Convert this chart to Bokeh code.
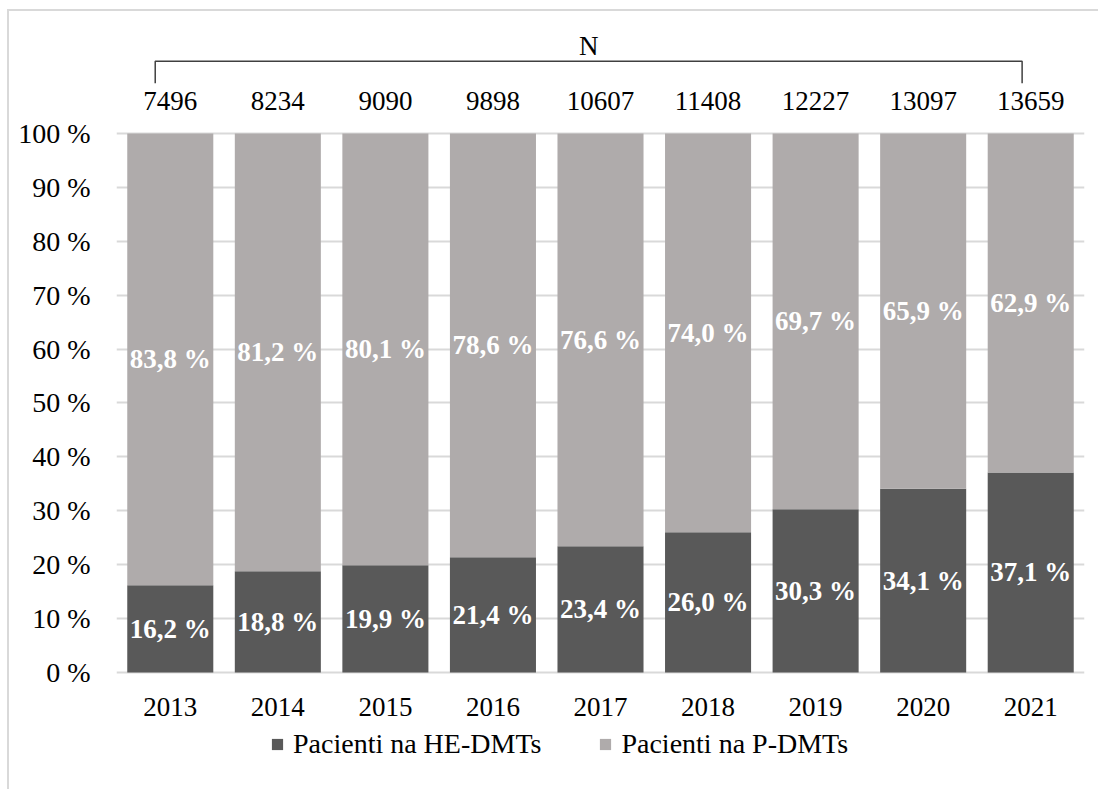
from bokeh.plotting import figure
from bokeh.models import (ColumnDataSource, FactorRange, FixedTicker, Range1d,
                          Legend, LegendItem)
from bokeh.core.properties import value
from bokeh.embed import file_html
from bokeh.resources import INLINE

# Data
years = ["2013", "2014", "2015", "2016", "2017", "2018", "2019", "2020", "2021"]
he_dmt = [16.2, 18.8, 19.9, 21.4, 23.4, 26.0, 30.3, 34.1, 37.1]
p_dmt = [83.8, 81.2, 80.1, 78.6, 76.6, 74.0, 69.7, 65.9, 62.9]
n_patients = [7496, 8234, 9090, 9898, 10607, 11408, 12227, 13097, 13659]
series_names = ["Pacienti na HE-DMTs", "Pacienti na P-DMTs"]
y_ticks = [0, 10, 20, 30, 40, 50, 60, 70, 80, 90, 100]

DARK = "#595959"
LIGHT = "#afabab"
FONT = "Liberation Serif"
FS = "27px"


def pct(v):
    return f"{v:.1f}".replace(".", ",") + " %"


src = ColumnDataSource(dict(
    year=years,
    he=he_dmt,
    p=p_dmt,
    he_mid=[v / 2 for v in he_dmt],
    p_mid=[h + v / 2 for h, v in zip(he_dmt, p_dmt)],
    he_lbl=[pct(v) for v in he_dmt],
    p_lbl=[pct(v) for v in p_dmt],
    n_lbl=[str(n) for n in n_patients],
    n_y=[106.1] * len(years),
))

# the frame runs down to the bottom edge so the legend can sit inside it
p = figure(
    x_range=FactorRange(*years), y_range=Range1d(-22.08, 119.1),
    width=1091, height=780, output_backend="svg", toolbar_location=None,
    min_border_left=107, min_border_right=16, min_border_top=19,
    min_border_bottom=0, outline_line_color=None,
)
p.styles = {"margin-left": "7px", "margin-top": "9px",
            "border-left": "2px solid #d9d9d9", "border-top": "2px solid #d9d9d9"}

renderers = p.vbar_stack(["he", "p"], x="year", width=0.8, color=[DARK, LIGHT],
                         line_color=None, source=src)

# value labels inside the segments
for ycol, tcol in (("he_mid", "he_lbl"), ("p_mid", "p_lbl")):
    p.text(x="year", y=ycol, text=tcol, source=src, text_color="white",
           text_font=value(FONT), text_font_style="bold", text_font_size=FS,
           text_align="center", text_baseline="middle")

# patient counts above the bars
p.text(x="year", y="n_y", text="n_lbl", source=src, text_color="black",
       text_font=value(FONT), text_font_size=FS,
       text_align="center", text_baseline="middle")

# bracket spanning all years with the "N" caption
bx0 = 0.5 - 0.14
bx1 = len(years) - 0.5 - 0.08
p.line(x=[bx0, bx0, bx1, bx1], y=[109.3, 113.4, 113.4, 109.3],
       line_color="#404040", line_width=1.5)
p.text(x=[(bx0 + bx1) / 2], y=[116.3], text=["N"], text_color="black",
       text_font=value(FONT), text_font_size=FS,
       text_align="center", text_baseline="middle")

# axes
p.yaxis.ticker = FixedTicker(ticks=y_ticks)
p.yaxis.major_label_overrides = {t: f"{t} %" for t in y_ticks}
p.yaxis.axis_line_color = None
p.yaxis.major_tick_line_color = None
p.yaxis.minor_tick_line_color = None
p.yaxis.major_tick_out = 0
p.yaxis.major_tick_in = 0
p.yaxis.major_label_standoff = 26
p.yaxis.major_label_text_font = FONT
p.yaxis.major_label_text_font_size = "28px"
p.yaxis.major_label_text_color = "black"

p.xaxis.fixed_location = 0
p.xaxis.axis_line_color = None
p.xaxis.major_tick_line_color = None
p.xaxis.major_tick_out = 0
p.xaxis.major_tick_in = 0
p.xaxis.major_label_standoff = 26
p.xaxis.major_label_text_font = FONT
p.xaxis.major_label_text_font_size = FS
p.xaxis.major_label_text_color = "black"

p.xgrid.grid_line_color = None
p.ygrid.ticker = FixedTicker(ticks=y_ticks)
p.ygrid.grid_line_color = "#d9d9d9"
p.ygrid.grid_line_width = 2
p.ygrid.level = "underlay"

legend = Legend(
    items=[LegendItem(label=series_names[0], renderers=[renderers[0]]),
           LegendItem(label=series_names[1], renderers=[renderers[1]])],
    orientation="horizontal", location=(154, 31),
    label_text_font=FONT, label_text_font_size="28px", label_text_color="black",
    glyph_width=14, glyph_height=14, label_standoff=9, spacing=57,
    padding=0, margin=0, border_line_color=None, background_fill_alpha=0,
)
p.add_layout(legend, "center")

open("out.html", "w").write(file_html(p, INLINE))
